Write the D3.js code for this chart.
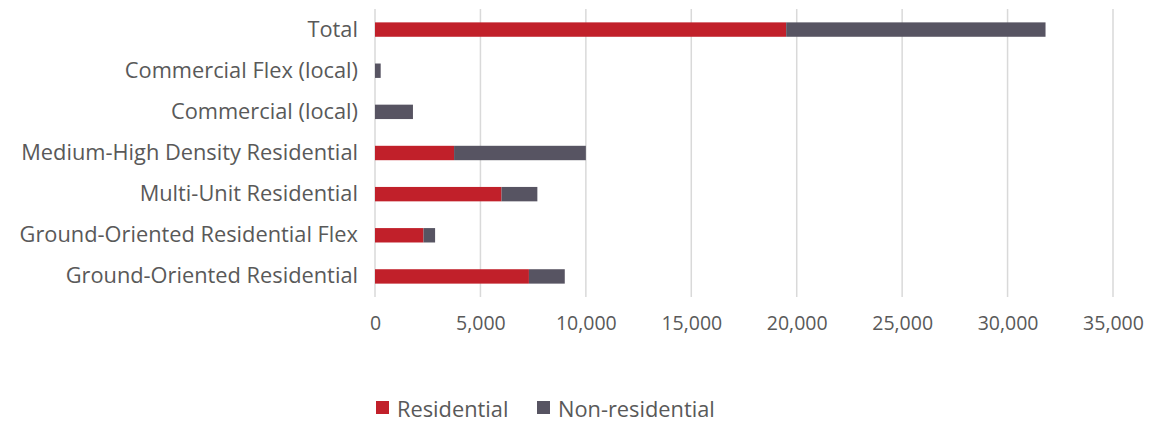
<!DOCTYPE html>
<html><head><meta charset="utf-8">
<script src="https://cdn.jsdelivr.net/npm/d3@7"></script>
<style>
html,body{margin:0;padding:0;background:#fff;}
svg text{font-family:"Open Sans","Noto Sans",sans-serif;fill:#595959;}
</style></head>
<body><svg id="chart" width="1167" height="422"></svg>
<script>
const categories = ["Total","Commercial Flex (local)","Commercial (local)","Medium-High Density Residential","Multi-Unit Residential","Ground-Oriented Residential Flex","Ground-Oriented Residential"];
const residential = [19500, 0, 0, 3750, 6000, 2300, 7300];
const nonResidential = [12300, 270, 1800, 6250, 1700, 550, 1700];
const seriesNames = ["Residential","Non-residential"];
const colors = ["#C1202A","#575462"];
const xTicks = [0,5000,10000,15000,20000,25000,30000,35000];

const svg = d3.select("#chart");
const mLeft = 375, mRight = 1113, mTop = 9, mBottom = 297;
const x = d3.scaleLinear().domain([0,35000]).range([mLeft,mRight]);
const y = d3.scaleBand().domain(categories).range([mTop,mBottom]).paddingInner(0.65).paddingOuter(0.325);

// gridlines
svg.append("g").selectAll("line").data(xTicks).join("line")
  .attr("x1",d=>x(d)).attr("x2",d=>x(d)).attr("y1",mTop).attr("y2",mBottom)
  .attr("stroke","#d9d9d9").attr("stroke-width",1.5);

const rows = categories.map((c,i)=>({cat:c, vals:[residential[i], nonResidential[i]]}));
const stack = d3.stack().keys([0,1]).value((d,k)=>d.vals[k]);
const stacked = stack(rows);
stacked.forEach((layer,k)=>{
  svg.append("g").selectAll("rect").data(layer).join("rect")
    .attr("x",d=>x(d[0])).attr("width",d=>Math.max(0,x(d[1])-x(d[0])))
    .attr("y",d=>y(d.data.cat)).attr("height",y.bandwidth())
    .attr("fill",colors[k]);
});

// x axis labels
const xa = svg.append("g").attr("transform",`translate(0,${mBottom})`)
  .call(d3.axisBottom(x).tickValues(xTicks).tickFormat(d3.format(",")).tickSize(0).tickPadding(19));
xa.select(".domain").remove();
xa.selectAll("text").attr("font-size",19.5).style("fill","#595959").attr("font-family",null);

// y axis labels
const ya = svg.append("g").attr("transform",`translate(${mLeft},0)`)
  .call(d3.axisLeft(y).tickSize(0).tickPadding(17));
ya.select(".domain").remove();
ya.selectAll("text").attr("font-size",21.8).style("fill","#595959").attr("font-family",null);

// legend
const legendX = [376, 537];
const lg = svg.append("g");
seriesNames.forEach((s,i)=>{
  lg.append("rect").attr("x",legendX[i]).attr("y",401).attr("width",13).attr("height",13).attr("fill",colors[i]);
  lg.append("text").attr("x",legendX[i]+21).attr("y",409).attr("dy","0.35em").attr("font-size",21.8).text(s);
});
</script></body></html>
